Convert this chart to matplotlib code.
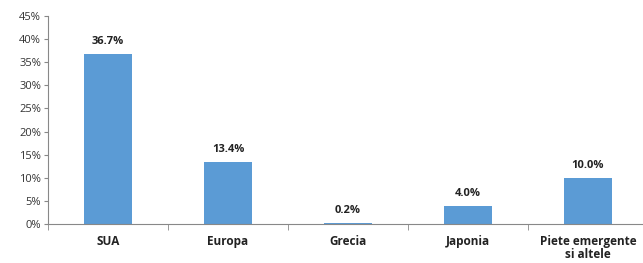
import numpy as np
import matplotlib
matplotlib.use('Agg')
import matplotlib.pyplot as plt
from matplotlib.ticker import FixedLocator, PercentFormatter

categories = ['SUA', 'Europa', 'Grecia', 'Japonia', 'Piete emergente\nsi altele']
values = [36.7, 13.4, 0.2, 4.0, 10.0]
yticks = [0, 5, 10, 15, 20, 25, 30, 35, 40, 45]

plt.rcParams['font.family'] = ['Open Sans', 'DejaVu Sans']

fig = plt.figure(figsize=(6.43, 2.63), dpi=100)
ax = fig.add_axes([48 / 643, 39 / 263, 600 / 643, 208 / 263])

x = np.arange(len(categories))
ax.bar(x, values, width=0.4, color='#5B9BD5')

for xi, v in zip(x, values):
    ax.text(xi, v + 1.5, f'{v:.1f}%', ha='center', va='bottom',
            fontsize=8, fontweight='bold', color='#222222')

ax.set_xlim(-0.5, len(categories) - 0.5)
ax.set_ylim(0, 45)
ax.set_yticks(yticks)
ax.yaxis.set_major_formatter(PercentFormatter(decimals=0))
ax.tick_params(axis='y', labelsize=8, length=3, color='#888888', labelcolor='#333333', pad=2)

ax.set_xticks(x)
ax.set_xticklabels(categories, fontsize=8.5, fontweight='bold', color='#222222',
                   linespacing=1.0)
ax.tick_params(axis='x', length=0, pad=8)
ax.xaxis.set_minor_locator(FixedLocator(np.arange(-0.5, len(categories), 1)))
ax.tick_params(axis='x', which='minor', length=4, color='#888888')

for s in ['top', 'right']:
    ax.spines[s].set_visible(False)
for s in ['left', 'bottom']:
    ax.spines[s].set_color('#888888')
    ax.spines[s].set_linewidth(0.8)

fig.savefig('out.png', dpi=100)
